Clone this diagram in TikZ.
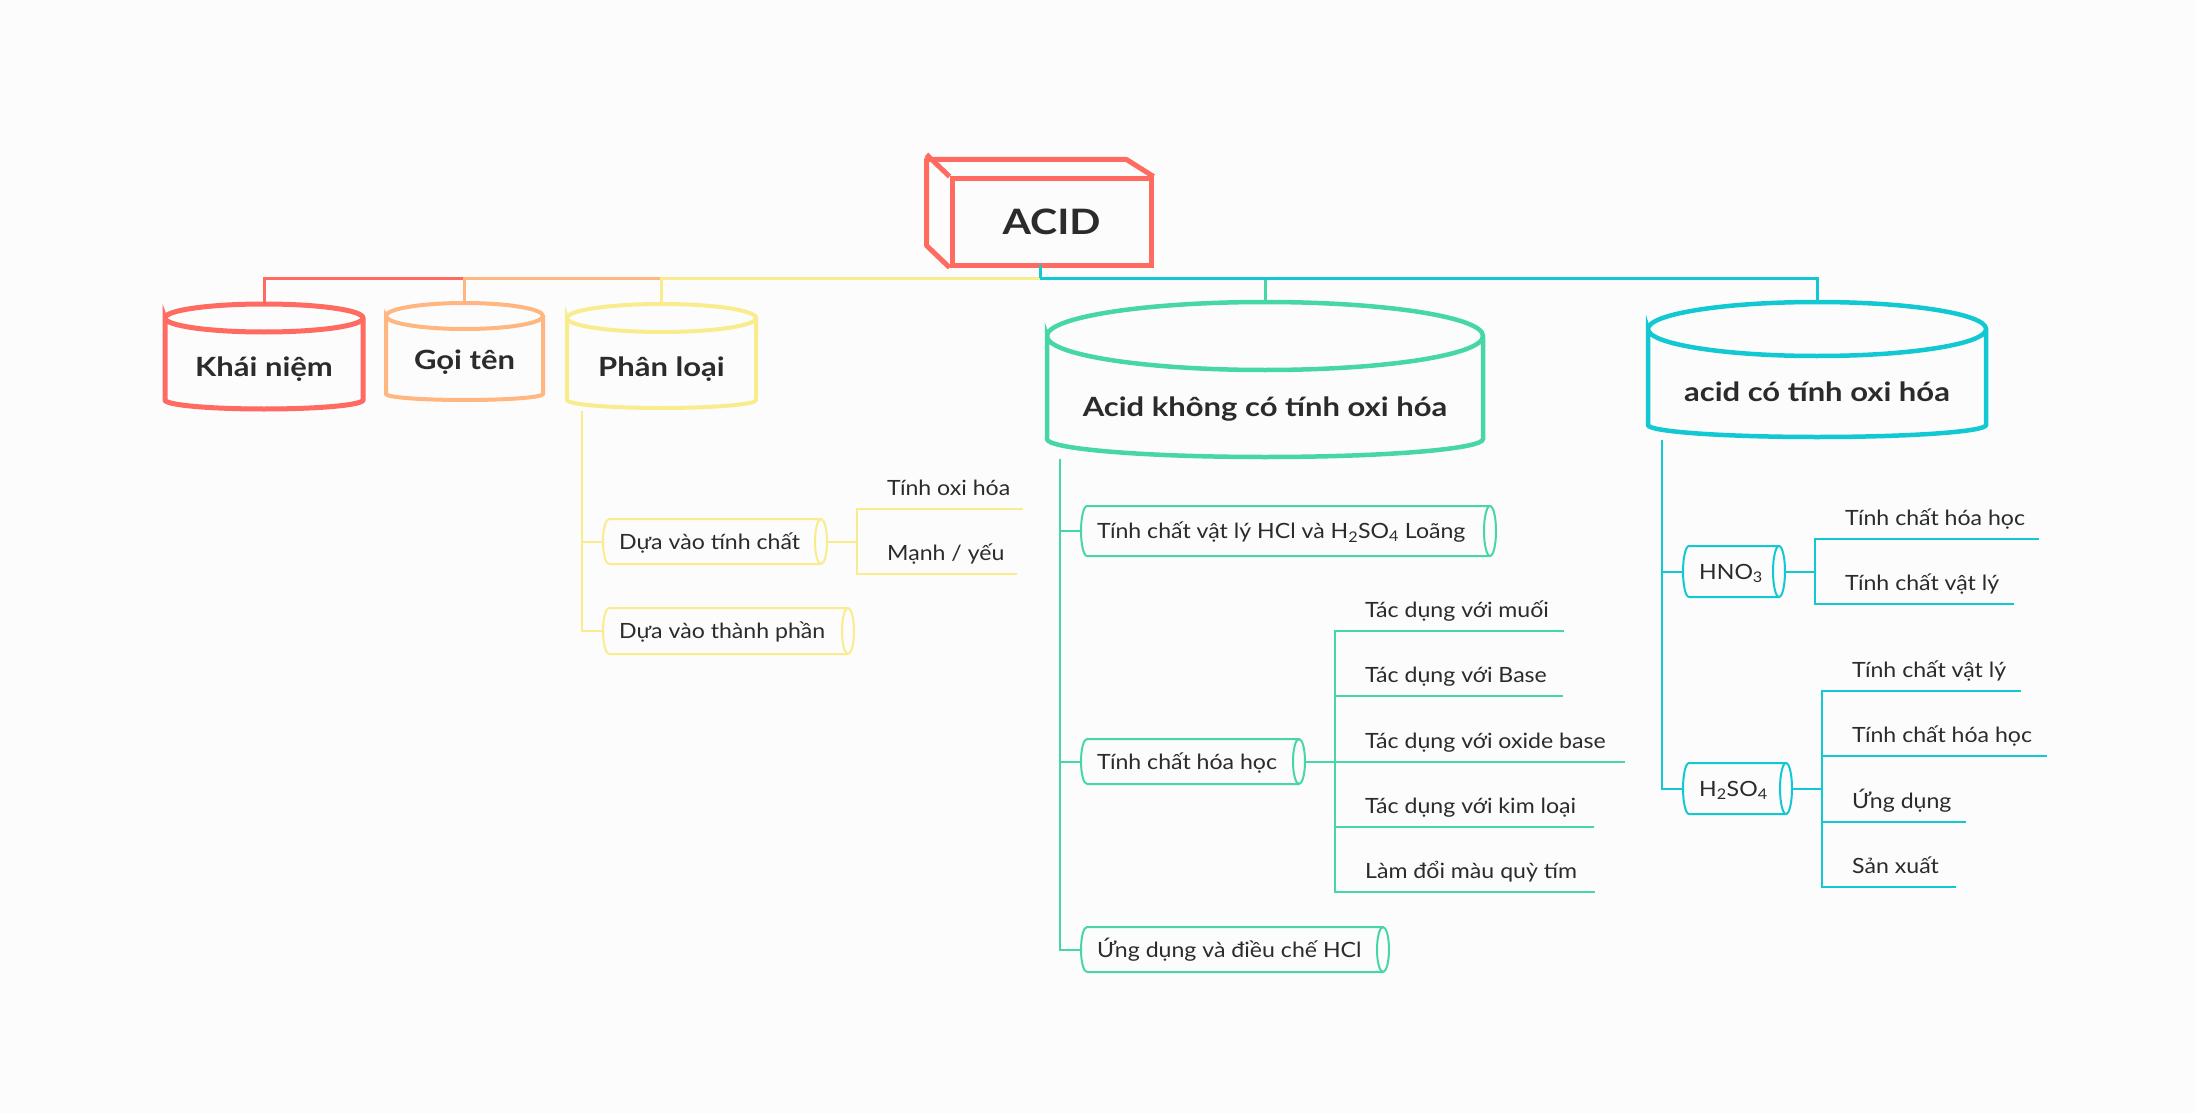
\documentclass[tikz,border=0pt]{standalone}
\usepackage{fontspec}
\setmainfont{Lato}[FakeStretch=1.1]
\newfontfamily\widebold{Lato}[FakeStretch=1.17]
\definecolor{cred}{HTML}{FF6B61}
\definecolor{corange}{HTML}{FFB680}
\definecolor{cyellow}{HTML}{F9EC8C}
\definecolor{cgreen}{HTML}{46D7A5}
\definecolor{cteal}{HTML}{12C8D3}
\definecolor{ctext}{HTML}{2B2B2B}
\definecolor{cbg}{HTML}{FCFCFC}
\tikzset{
  lvlone/.style={inner sep=0pt, text=ctext, font=\widebold\fontsize{26.5}{30}\selectfont\bfseries, anchor=base},
  tubenode/.style={inner xsep=0pt, inner ysep=0pt, text=ctext, font=\fontsize{21}{24}\selectfont, text height=20pt, text depth=5pt, anchor=west},
  leafnode/.style={inner xsep=0pt, inner ysep=8.5pt, text height=16pt, text depth=5pt, text=ctext, font=\fontsize{21}{24}\selectfont, anchor=south west},
  barline/.style={line width=3pt},
  thinline/.style={line width=2pt},
}
% cylinder outline: x1 x2 y1 y2 rytop rybot style
\newcommand\cylout[7]{%
  \draw[#7] (#1,#3+#5) arc[start angle=180,end angle=-180,x radius={(#2-#1)/2*1pt},y radius=#5pt]
    -- (#1,#4-#6) arc[start angle=180,end angle=360,x radius={(#2-#1)/2*1pt},y radius=#6pt]
    -- (#2,#3+#5);}
% horizontal tube box: name x1 x2 y1 y2 color text
\newcommand\tubebox[7]{%
  \node[tubenode, minimum height={#5-#4}] (#1) at (#2,{(#4+#5)/2})
     {\makebox[\dimexpr #3pt-#2pt\relax][l]{\hspace*{16pt}#7}};
  \draw[#6, thinline] (#2+6,#5) arc[start angle=270,end angle=90,x radius=6pt,y radius={(#5-#4)/2*1pt}]
     -- (#3-6,#4) arc[start angle=90,end angle=-270,x radius=6pt,y radius={(#5-#4)/2*1pt}]
     (#3-6,#5) -- (#2+6,#5);}
% leaf: name xv yu width text
\newcommand\leafitem[5]{%
  \node[leafnode] (#1) at (#2,#3) {\makebox[#4pt][l]{\hspace*{30pt}#5}};}
\begin{document}
\begin{tikzpicture}[x=1pt,y=-1pt]
\fill[cbg] (0,0) rectangle (2196,1113);
\useasboundingbox (0,0) rectangle (2196,1113);

% ACID box
\node[draw=cred, line width=5pt, minimum width=199pt, minimum height=86pt, inner sep=0pt,
      text=ctext, font=\widebold\fontsize{35}{40}\selectfont\bfseries] (acid) at (1051.5,222) {ACID};
\draw[cred, line width=5pt, line join=round] (acid.south west) -- ++(-23,-22) -- ++(0,-86) -- ++(200,0) -- (acid.north east)
   ([shift={(-23,-22)}]acid.north west) -- (acid.north west);

% level 1 cylinders
\node[lvlone, minimum width=198pt, text height=72.5pt, text depth=32.5pt] (kn) at (264,376.5) {Khái niệm};
\cylout{165}{363}{304}{409}{14}{9}{cred, line width=5pt}
\node[lvlone, minimum width=157pt, text height=66.5pt, text depth=30.5pt] (gt) at (464.5,369.5) {Gọi tên};
\cylout{386}{543}{303}{400}{13}{6}{corange, line width=4pt}
\node[lvlone, minimum width=189pt, text height=72.5pt, text depth=31.5pt] (pl) at (661.5,376.5) {Phân loại};
\cylout{567}{756}{304}{408}{14}{8}{cyellow, line width=4pt}
\node[lvlone, minimum width=436pt, text height=114.5pt, text depth=40.5pt] (ak) at (1265,416.5) {Acid không có tính oxi hóa};
\cylout{1047}{1483}{302}{457}{34}{18}{cgreen, line width=4.5pt}
\node[lvlone, minimum width=338pt, text height=99.5pt, text depth=35.5pt] (ac) at (1817,401.5) {acid có tính oxi hóa};
\cylout{1648}{1986}{302}{437}{27}{12}{cteal, line width=4.5pt}

% top connectors
\coordinate (acidb) at (1040,265);
\coordinate (hub) at (1040,278);
\draw[barline,cred] (hub) -| (kn.north);
\draw[barline,corange] (hub) -| (gt.north);
\draw[barline,cyellow] (hub) -| (pl.north);
\draw[barline,cgreen] (hub) -| (ak.north);
\draw[barline,cteal] (hub) -| (ac.north);
\draw[barline,cteal] (acidb) -- (hub);

% Phan loai branch
\tubebox{dvtc}{603}{827}{519}{564}{cyellow}{Dựa vào tính chất}
\tubebox{dvtp}{603}{854}{608}{654}{cyellow}{Dựa vào thành phần}
\coordinate (plb) at (582,411);
\draw[thinline,cyellow] (plb) |- (dvtc.west);
\draw[thinline,cyellow] (plb) |- (dvtp.west);
\leafitem{toh}{857}{509}{166}{Tính oxi hóa}
\leafitem{my}{857}{574}{160}{Mạnh / yếu}
\draw[thinline,cyellow] (dvtc.east) -| (toh.south west) -- (toh.south east);
\draw[thinline,cyellow] (dvtc.east) -| (my.south west) -- (my.south east);

% Acid khong co tinh oxi hoa branch
\tubebox{gone}{1081}{1496}{506}{556}{cgreen}{Tính chất vật lý HCl và H\textsubscript{2}SO\textsubscript{4} Loãng}
\tubebox{gtwo}{1081}{1305}{739}{784}{cgreen}{Tính chất hóa học}
\tubebox{gthree}{1081}{1389}{927}{972}{cgreen}{Ứng dụng và điều chế HCl}
\coordinate (akb) at (1060,459);
\draw[thinline,cgreen] (akb) |- (gone.west);
\draw[thinline,cgreen] (akb) |- (gtwo.west);
\draw[thinline,cgreen] (akb) |- (gthree.west);
\leafitem{ga}{1335}{631}{229}{Tác dụng với muối}
\leafitem{gb}{1335}{696}{228}{Tác dụng với Base}
\leafitem{gc}{1335}{762}{290}{Tác dụng với oxide base}
\leafitem{gd}{1335}{827}{259}{Tác dụng với kim loại}
\leafitem{ge}{1335}{892}{260}{Làm đổi màu quỳ tím}
\foreach \n in {ga,gb,gc,gd,ge}{
  \draw[thinline,cgreen] (gtwo.east) -| (\n.south west) -- (\n.south east);
}

% acid co tinh oxi hoa branch
\tubebox{hno}{1683}{1785}{546}{597}{cteal}{HNO\textsubscript{3}}
\tubebox{hso}{1683}{1792}{763}{814}{cteal}{H\textsubscript{2}SO\textsubscript{4}}
\coordinate (acb) at (1662,440);
\draw[thinline,cteal] (acb) |- (hno.west);
\draw[thinline,cteal] (acb) |- (hso.west);
\leafitem{ha}{1815}{539}{224}{Tính chất hóa học}
\leafitem{hb}{1815}{604}{199}{Tính chất vật lý}
\foreach \n in {ha,hb}{
  \draw[thinline,cteal] (hno.east) -| (\n.south west) -- (\n.south east);
}
\leafitem{sa}{1822}{691}{199}{Tính chất vật lý}
\leafitem{sb}{1822}{756}{225}{Tính chất hóa học}
\leafitem{sc}{1822}{822}{144}{Ứng dụng}
\leafitem{sd}{1822}{887}{134}{Sản xuất}
\foreach \n in {sa,sb,sc,sd}{
  \draw[thinline,cteal] (hso.east) -| (\n.south west) -- (\n.south east);
}
\end{tikzpicture}
\end{document}
